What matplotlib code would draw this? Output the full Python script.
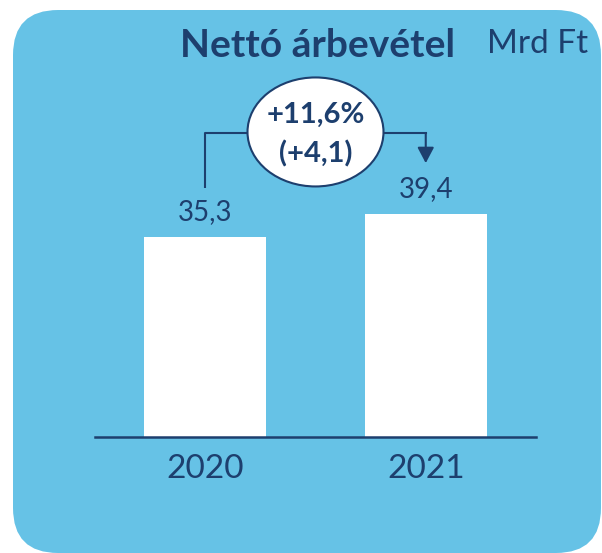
import matplotlib.pyplot as plt
from matplotlib.patches import FancyBboxPatch, Ellipse

# data
years = ["2020", "2021"]
values = [35.3, 39.4]

navy = "#1D3F6E"
bg = "#66C2E6"

plt.rcParams["font.family"] = ["Lato", "DejaVu Sans"]

W, H = 602, 553
fig = plt.figure(figsize=(W / 100, H / 100), dpi=100)
fig.patch.set_facecolor("white")

# rounded background panel (figure pixels)
panel = FancyBboxPatch((13 / W, 0 / H), 588 / W, 543 / H,
                       boxstyle="round,pad=0,rounding_size=0.075",
                       transform=fig.transFigure, facecolor=bg,
                       edgecolor="none", mutation_aspect=W / H, zorder=-5)
fig.patches.append(panel)

# axes: baseline at y=437 px, 5.67 px per unit
base_px = 437
scale = 5.67
ax = fig.add_axes([95 / W, (H - base_px) / H, 441 / W, (base_px - 10) / H])
ax.set_zorder(2)
ax.set_xlim(-0.5, 1.5)
ax.set_ylim(0, (base_px - 10) / scale)
ax.patch.set_alpha(0)
for s in ["top", "right", "left"]:
    ax.spines[s].set_visible(False)
ax.spines["bottom"].set_color(navy)
ax.spines["bottom"].set_linewidth(1.8)
ax.set_yticks([])
ax.set_xticks(range(len(years)))
ax.set_xticklabels(years, fontsize=24, color=navy)
ax.tick_params(axis="x", length=0, pad=12)

x = list(range(len(years)))
ax.bar(x, values, width=0.553, color="white", zorder=2)

for xi, v in zip(x, values):
    ax.text(xi, v + 2.0, f"{v:.1f}".replace(".", ","), ha="center",
            va="bottom", fontsize=20, color=navy)

# change bracket
diff = values[1] - values[0]
pct = diff / values[0] * 100
top_y = max(values) + 14.2
ax.plot([x[0], x[0], 0.5], [values[0] + 8.6, top_y, top_y],
        color=navy, lw=1.5, zorder=3, solid_capstyle="butt")
ax.annotate("", xy=(x[1], values[1] + 8.9), xytext=(x[1], top_y),
            arrowprops=dict(arrowstyle="-|>,head_length=0.95,head_width=0.5",
                            color=navy, lw=1.5, shrinkA=0, shrinkB=0),
            zorder=3)
ax.plot([0.5, x[1]], [top_y, top_y], color=navy, lw=1.5, zorder=3)
ell = Ellipse((0.5, top_y + 0.2), 136 / 220.5, 109 / scale,
              facecolor="white", edgecolor=navy, lw=1.5, zorder=4)
ax.add_patch(ell)
ax.text(0.5, top_y - 0.3, f"+{pct:.1f}%\n(+{diff:.1f})".replace(".", ","),
        ha="center", va="center", fontsize=21, fontweight="bold",
        color=navy, linespacing=1.55, zorder=5)

# titles
fig.text(180 / W, 1 - 57 / H, "Nettó árbevétel", fontsize=28,
         fontweight="bold", color=navy, va="baseline")
fig.text(487 / W, 1 - 53 / H, "Mrd Ft", fontsize=24, color=navy,
         va="baseline")

fig.savefig("out.png", dpi=100)
